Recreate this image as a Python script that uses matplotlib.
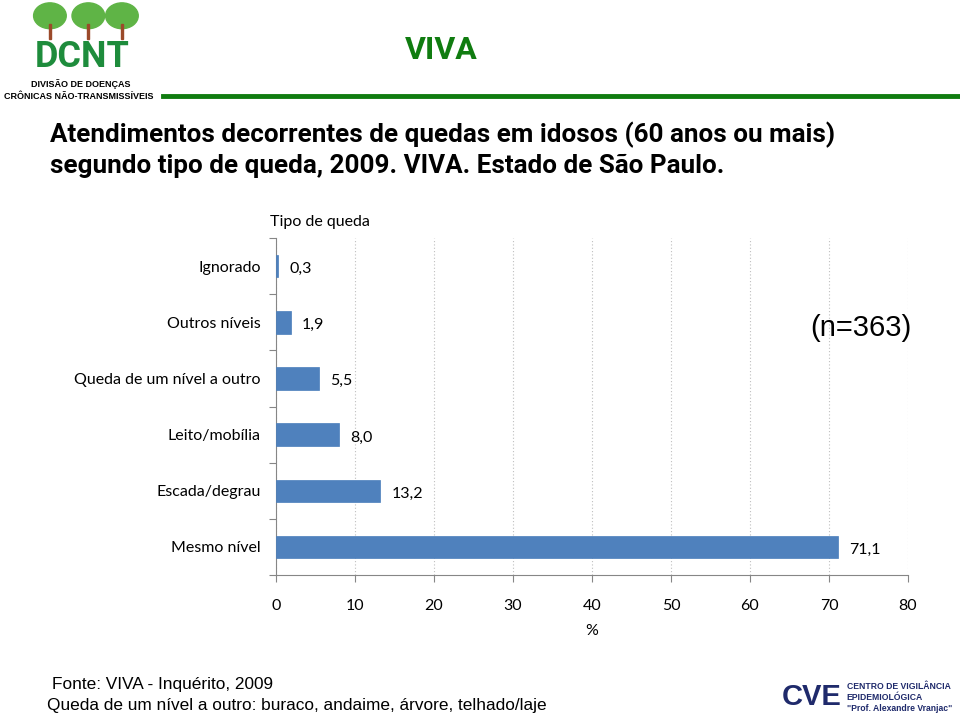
import matplotlib.pyplot as plt
from matplotlib.patches import Ellipse, Rectangle

categorias = ['Ignorado', 'Outros níveis', 'Queda de um nível a outro',
              'Leito/mobília', 'Escada/degrau', 'Mesmo nível']
percentuais = [0.3, 1.9, 5.5, 8.0, 13.2, 71.1]
rotulos = ['0,3', '1,9', '5,5', '8,0', '13,2', '71,1']

LAB_FONT = 'Lato'
HEAD_FONT = 'Roboto'
GREEN = '#107C10'

fig = plt.figure(figsize=(9.6, 7.17), dpi=100)

# header: logo DCNT (simplificado), VIVA e linha verde
for cx in [0.052, 0.092, 0.127]:
    fig.patches.append(Ellipse((cx, 0.978), 0.034, 0.036, transform=fig.transFigure,
                               color='#5FB446', zorder=1))
    fig.patches.append(Rectangle((cx - 0.001, 0.945), 0.002, 0.022, transform=fig.transFigure,
                                 color='#9B4A2A', zorder=1))
fig.text(0.086, 0.946, 'DCNT', color='#1E8C3C', fontsize=26, fontweight='bold',
         family=HEAD_FONT, ha='center', va='top')
fig.text(0.084, 0.883, 'DIVISÃO DE DOENÇAS', fontsize=6.5, fontweight='bold',
         family='Liberation Sans', ha='center', va='center')
fig.text(0.082, 0.866, 'CRÔNICAS NÃO-TRANSMISSÍVEIS', fontsize=6.5, fontweight='bold',
         family='Liberation Sans', ha='center', va='center')
fig.add_artist(plt.Line2D([0.17, 1.0], [0.866, 0.866], color=GREEN, lw=3.5))
fig.text(0.46, 0.930, 'VIVA', color=GREEN, fontsize=23, fontweight='bold',
         family=HEAD_FONT, ha='center', va='center')

# titulo
fig.text(0.052, 0.812, 'Atendimentos decorrentes de quedas em idosos (60 anos ou mais)',
         fontsize=18.7, fontweight='bold', family=HEAD_FONT, va='center')
fig.text(0.052, 0.768, 'segundo tipo de queda, 2009. VIVA. Estado de São Paulo.',
         fontsize=18.7, fontweight='bold', family=HEAD_FONT, va='center')

ax = fig.add_axes([0.2875, 0.198, 0.6583, 0.470])
y = list(range(len(categorias)))[::-1]
ax.barh(y, percentuais, height=0.4, color='#4F81BD', edgecolor='#4A7EBB', lw=0.5, zorder=3)
for yi, v, r in zip(y, percentuais, rotulos):
    ax.text(v + 1.4, yi - 0.05, r, fontsize=11.5, family=LAB_FONT, va='center', ha='left')

ax.set_xlim(0, 80)
ax.set_ylim(-0.5, len(categorias) - 0.5)
ax.set_xticks(range(0, 81, 10))
ax.tick_params(axis='x', length=5, pad=12, labelsize=11.5, color='#868686')
for lab in ax.get_xticklabels():
    lab.set_family(LAB_FONT)
ax.set_yticks([i - 0.5 for i in range(len(categorias) + 1)])
ax.set_yticklabels([])
ax.set_yticks(y, minor=True)
ax.set_yticklabels(categorias, minor=True, family=LAB_FONT, fontsize=11.5)
ax.tick_params(axis='y', which='major', length=5, color='#868686')
ax.tick_params(axis='y', which='minor', length=0, pad=11)
ax.grid(axis='x', color='#BFBFBF', linestyle=(0, (1, 2)), lw=0.8, zorder=0)
ax.spines['top'].set_visible(False)
ax.spines['right'].set_visible(False)
ax.spines['left'].set_color('#868686')
ax.spines['bottom'].set_color('#868686')
ax.set_xlabel('%', family=LAB_FONT, fontsize=11.5, labelpad=8)

fig.text(0.333, 0.691, 'Tipo de queda', family=LAB_FONT, fontsize=11.5, ha='center', va='center')
fig.text(0.897, 0.542, '(n=363)', family='Liberation Sans', fontsize=21, ha='center', va='center')

# rodape
fig.text(0.054, 0.045, 'Fonte: VIVA - Inquérito, 2009', family='Liberation Sans',
         fontsize=12.4, va='center')
fig.text(0.049, 0.016, 'Queda de um nível a outro: buraco, andaime, árvore, telhado/laje',
         family='Liberation Sans', fontsize=12.4, va='center')

# logo CVE (simplificado)
fig.text(0.814, 0.028, 'CVE', color='#1F2A6B', fontsize=21, fontweight='bold',
         family='Liberation Sans', va='center', ha='left')
for i, t in enumerate(['CENTRO DE VIGILÂNCIA', 'EPIDEMIOLÓGICA', '"Prof. Alexandre Vranjac"']):
    fig.text(0.882, 0.042 - i * 0.015, t, color='#1F2A6B', fontsize=6.2, fontweight='bold',
             family='Liberation Sans', va='center', ha='left')

fig.savefig('out.png', dpi=100)
